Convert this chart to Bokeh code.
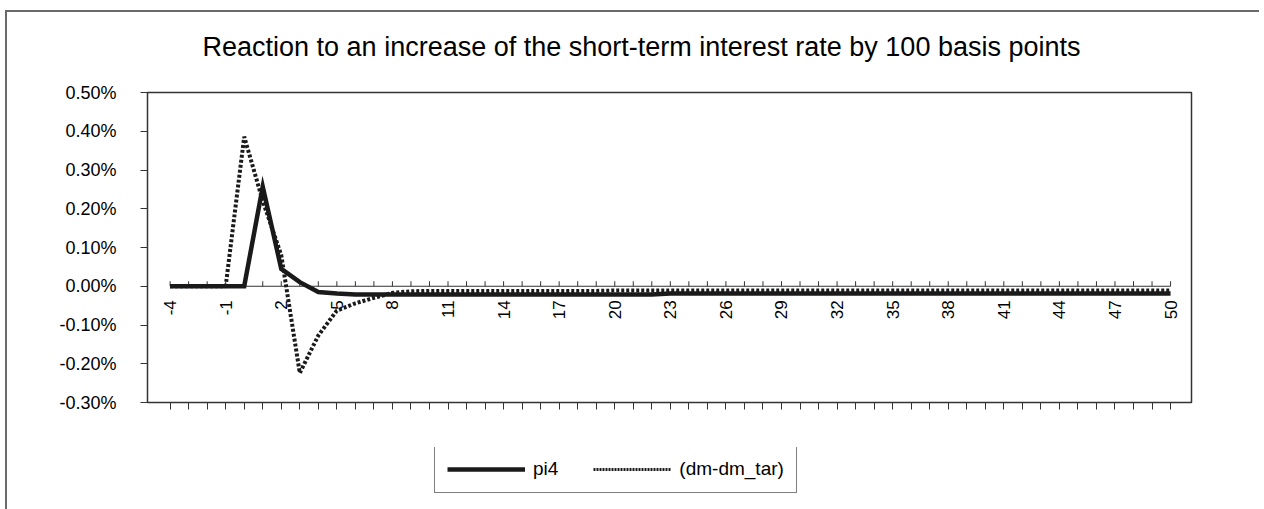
import math
from bokeh.plotting import figure
from bokeh.layouts import column
from bokeh.models import Range1d, FixedTicker, NumeralTickFormatter, CustomJSTickFormatter, Legend, LegendItem
from bokeh.core.properties import value
from bokeh.embed import file_html
from bokeh.resources import INLINE

# ---- data ----
periods = list(range(-4, 51))
pi4 = ([0.0, 0.0, 0.0, 0.0, 0.0,
        0.00257, 0.00045, 0.000105, -0.00015, -0.00019, -0.00021, -0.00021, -0.00021]
       + [-0.00021] * 14 + [-0.00019] * 28)
dm_gap = ([0.0, 0.0, 0.0, 0.0, 0.00386,
           0.0022, 0.0008, -0.00224, -0.00127, -0.00063, -0.00044, -0.0003, -0.00017, -0.00013]
          + [-0.00012] * 10 + [-0.00011] * 31)
series_names = ["pi4", "(dm-dm_tar)"]
y_ticks = [-0.003, -0.002, -0.001, 0.0, 0.001, 0.002, 0.003, 0.004, 0.005]
x_tick_labels = [str(v) for v in range(-4, 51, 3)]
title_text = "Reaction to an increase of the short-term interest rate by 100 basis points"

FONT = "Liberation Sans"
INK = "#1a1a1a"
AXC = "#333333"
W = 1252
BL, BR = 140, 68


def blank(h):
    f = figure(width=W, height=h, output_backend="svg", toolbar_location=None,
               x_range=Range1d(0, 1), y_range=Range1d(0, 1),
               min_border_left=BL, min_border_right=BR, min_border_top=0, min_border_bottom=0)
    f.axis.visible = False
    f.xgrid.visible = False
    f.ygrid.visible = False
    f.outline_line_color = None
    return f


# ---- title strip ----
head = blank(68)
head.text(x=[0.5], y=[0.5], text=[title_text], x_offset=-28, text_align="center",
          text_baseline="middle", text_font=value(FONT), text_font_size="27px", text_color="#000000")

# ---- main chart ----
p = figure(width=W, height=367, output_backend="svg", toolbar_location=None,
           x_range=Range1d(-5.22, 51.13), y_range=Range1d(y_ticks[0], y_ticks[-1]),
           min_border_left=BL, min_border_right=BR, min_border_top=12, min_border_bottom=45)
p.xgrid.visible = False
p.ygrid.visible = False
p.outline_line_color = AXC
p.outline_line_width = 1.5

p.yaxis.ticker = FixedTicker(ticks=y_ticks)
p.yaxis.formatter = NumeralTickFormatter(format="0.00%")
p.yaxis.major_tick_out = 7
p.yaxis.major_tick_in = 0
p.yaxis.minor_tick_line_color = None
p.yaxis.major_label_standoff = 24
p.yaxis.major_label_text_font = FONT
p.yaxis.major_label_text_font_size = "18px"
p.yaxis.major_label_text_color = "#000000"
p.yaxis.axis_line_color = AXC
p.yaxis.major_tick_line_color = AXC

p.xaxis.ticker = FixedTicker(ticks=periods)
p.xaxis.formatter = CustomJSTickFormatter(code="return ''")
p.xaxis.major_tick_out = 7
p.xaxis.major_tick_in = 0
p.xaxis.minor_tick_line_color = None
p.xaxis.axis_line_color = AXC
p.xaxis.major_tick_line_color = AXC

# zero-line category axis with its ticks and labels
y_span = y_ticks[-1] - y_ticks[0]
tick_len = 5.0 / 310.0 * y_span
p.segment(x0=periods[0], y0=0, x1=periods[-1], y1=0, line_color=AXC, line_width=1)
p.segment(x0=periods, y0=[0] * len(periods), x1=periods, y1=[tick_len] * len(periods),
          line_color=AXC, line_width=1)
p.text(x=[int(s) for s in x_tick_labels], y=[0] * len(x_tick_labels), text=x_tick_labels,
       angle=math.pi / 2, text_align="right", text_baseline="middle", y_offset=14,
       text_font=value(FONT), text_font_size="17px", text_color="#000000")

solid_style = dict(line_color=INK, line_width=4.5, line_join="miter")
dotted_style = dict(line_color=INK, line_width=4, line_dash="3 2")
p.line(periods, pi4, **solid_style)
p.line(periods, dm_gap, **dotted_style)

# ---- legend strip ----
leg = blank(62)
k1 = leg.line(x=[-1, -1], y=[-1, -1], **solid_style)
k2 = leg.line(x=[-1, -1], y=[-1, -1], line_color=INK, line_width=3, line_dash="2 1")
legend = Legend(items=[LegendItem(label=series_names[0], renderers=[k1]),
                       LegendItem(label=series_names[1], renderers=[k2])],
                orientation="horizontal", location=(287, 16),
                glyph_width=78, glyph_height=20, label_standoff=8, spacing=35,
                padding=12, margin=0,
                border_line_color="#000000", border_line_width=1,
                background_fill_color="#ffffff", background_fill_alpha=1,
                label_text_font=FONT, label_text_font_size="19px", label_text_color="#000000")
leg.add_layout(legend, "center")

page = column(head, p, leg, spacing=0)
page.styles = {"margin-top": "10px", "margin-left": "5px",
               "border-top": "2px solid #6a6a6a", "border-left": "2px solid #6a6a6a"}

open("out.html", "w").write(file_html(page, INLINE))
